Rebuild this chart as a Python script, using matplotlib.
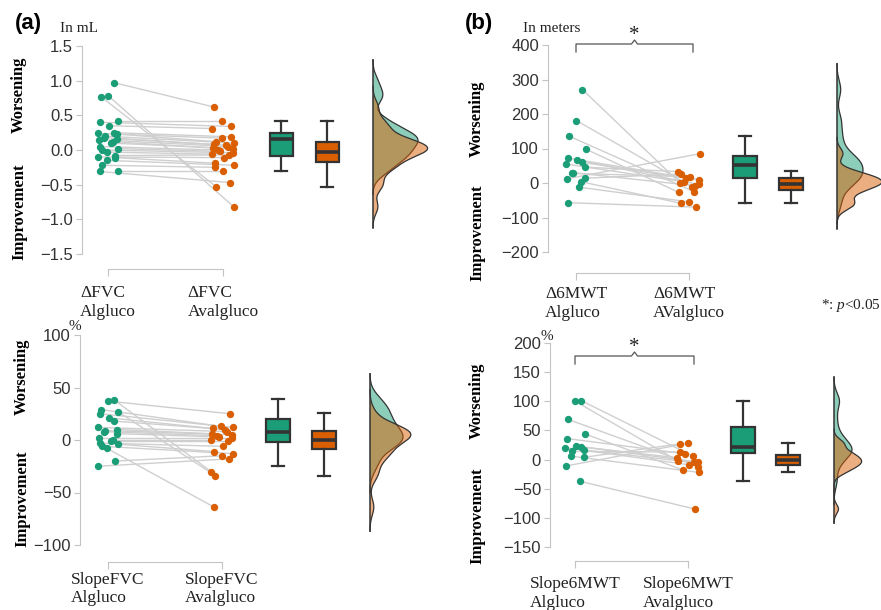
import numpy as np
import matplotlib
matplotlib.use("Agg")
import matplotlib.pyplot as plt
from matplotlib.lines import Line2D

plt.rcParams['mathtext.fontset'] = 'custom'
plt.rcParams['mathtext.rm'] = 'Liberation Serif'
plt.rcParams['mathtext.it'] = 'Liberation Serif:italic'

# ---------------- data ----------------
groups = ["Algluco", "Avalgluco"]

fvc_alg = [0.97, 0.78, 0.77, 0.42, 0.40, 0.35, 0.25, 0.24, 0.23, 0.20, 0.18, 0.16, 0.15,
           0.12, 0.10, 0.05, 0.02, 0.00, -0.03, -0.08, -0.10, -0.11, -0.15, -0.22, -0.30, -0.31]
fvc_aval = [0.62, -0.82, -0.53, 0.42, 0.34, 0.31, 0.19, 0.17, 0.12, 0.10, 0.08, 0.07, 0.05,
            0.03, 0.02, 0.00, -0.02, -0.04, -0.06, -0.07, -0.11, -0.19, -0.22, -0.25, -0.30, -0.47]
fvc_box_alg = [-0.31, -0.09, 0.16, 0.24, 0.42]     # whislo, q1, med, q3, whishi
fvc_box_aval = [-0.53, -0.17, -0.03, 0.12, 0.42]

mwt_alg = [271, 181, 136, 98, 72, 67, 60, 55, 46, 30, 28, 14, 12, 4, -12, -57]
mwt_aval = [1, -11, -25, -27, 9, 4, 14, -3, 33, -8, 18, 26, 85, -59, -55, -70]
mwt_box_alg = [-57, 14, 52, 79, 136]
mwt_box_aval = [-59, -20, -3, 14, 35]

sfvc_alg = [38, 37, 29, 27, 25, 21, 18, 12, 10, 9, 8, 6, 2, 0, -1, -3, -4, -6, -8, -20, -25]
sfvc_aval = [-30, 25, 13, -34, 12, 11, 10, 8, 6, 5, 4, 3, 2, 0, -1, -6, -11, -13, -64, -15, -18]
sfvc_box_alg = [-24.8, -1.6, 7.9, 19.7, 38.7]
sfvc_box_aval = [-34.3, -8.9, 0.0, 8.6, 25.5]

smwt_alg = [101, 100, 69, 44, 36, 23, 22, 20, 16, 14, 6, 4, -11, -37]
smwt_aval = [6, -2, -12, -18, 10, -4, 3, -5, -9, 13, -22, 27, 28, -85]
smwt_box_alg = [-37, 11, 22, 56, 101]
smwt_box_aval = [-21, -9, -1, 8, 28]

ticks_fvc = [-1.5, -1.0, -0.5, 0.0, 0.5, 1.0, 1.5]
ticklab_fvc = ["\u22121.5", "\u22121.0", "\u22120.5", "0.0", "0.5", "1.0", "1.5"]
ticks_mwt = [-200, -100, 0, 100, 200, 300, 400]
ticks_sfvc = [-100, -50, 0, 50, 100]
ticks_smwt = [-150, -100, -50, 0, 50, 100, 150, 200]

cat_fvc = ["\u0394FVC\nAlgluco", "\u0394FVC\nAvalgluco"]
cat_mwt = ["\u03946MWT\nAlgluco", "\u03946MWT\nAValgluco"]
cat_sfvc = ["SlopeFVC\nAlgluco", "SlopeFVC\nAvalgluco"]
cat_smwt = ["Slope6MWT\nAlgluco", "Slope6MWT\nAvalgluco"]

# ---------------- style ----------------
W, H = 881, 610
GREEN = "#1b9e77"
ORANGE = "#d95f02"
SPINE = "#c4c4c4"
TXT = "#333333"
SERIF = "Liberation Serif"
SANS = "Liberation Sans"

fig = plt.figure(figsize=(W / 100, H / 100), dpi=100)


def ftext(x, y, s, **kw):
    fig.text(x / W, 1 - y / H, s, **kw)


def nrd0(x):
    x = np.asarray(x, float)
    sd = x.std(ddof=1)
    q75, q25 = np.percentile(x, [75, 25])
    iqr = (q75 - q25) / 1.34
    lo = min(sd, iqr) if iqr > 0 else sd
    return 0.9 * lo * len(x) ** -0.2


def kde(x):
    x = np.asarray(x, float)
    bw = nrd0(x)
    g = np.linspace(x.min() - 3 * bw, x.max() + 3 * bw, 512)
    d = np.exp(-0.5 * ((g[:, None] - x[None, :]) / bw) ** 2).sum(1) / (len(x) * bw * np.sqrt(2 * np.pi))
    return g, d


def jitter(n, amp):
    i = np.arange(n)
    return amp * np.sin(i * 2.399 + 0.7)


def panel(sp, a, b, box_a, box_b, ticks, ticklabels, cats):
    xl, xr, yt, yb = sp["xl"], sp["xr"], sp["yt"], sp["yb"]
    vt, pt, vb, pb = sp["vt"], sp["pt"], sp["vb"], sp["pb"]
    k = (pb - pt) / (vt - vb)
    ax = fig.add_axes([xl / W, 1 - yb / H, (xr - xl) / W, (yb - yt) / H])
    ax.patch.set_alpha(0)
    ax.set_xlim(xl, xr)
    ax.set_ylim(vt - (yb - pt) / k, vt + (pt - yt) / k)
    c1, c2 = sp["cats"]
    a = np.asarray(a, float)
    b = np.asarray(b, float)
    xa = c1 + jitter(len(a), 10)
    xb = c2 + jitter(len(b), 11)[::-1]
    for i in range(len(a)):
        ax.plot([xa[i], xb[i]], [a[i], b[i]], color="#cfcfcf", lw=1.0, zorder=1)
    ax.scatter(xa, a, s=28, color=GREEN, lw=0, zorder=3)
    ax.scatter(xb, b, s=28, color=ORANGE, lw=0, zorder=3)

    stats = []
    for bx in (box_a, box_b):
        stats.append(dict(whislo=bx[0], q1=bx[1], med=bx[2], q3=bx[3], whishi=bx[4], fliers=[]))
    bp = ax.bxp(stats, positions=sp["boxes"], widths=sp["bw"], capwidths=12,
                patch_artist=True, showfliers=False,
                boxprops=dict(edgecolor="#333333", linewidth=1.6),
                medianprops=dict(color="#333333", linewidth=2.6),
                whiskerprops=dict(color="#333333", linewidth=1.6),
                capprops=dict(color="#333333", linewidth=1.6))
    for patch, c in zip(bp["boxes"], [GREEN, ORANGE]):
        patch.set_facecolor(c)

    ga, da = kde(a)
    gb, db = kde(b)
    scale = sp["dw"] / da.max()
    base = sp["base"]
    ax.fill_betweenx(ga, base, base + da * scale, facecolor=GREEN, alpha=0.5,
                     edgecolor="none", zorder=2)
    ax.plot(base + da * scale, ga, color="#333333", lw=0.9, zorder=2.1)
    ax.fill_betweenx(gb, base, base + db * scale, facecolor=ORANGE, alpha=0.5,
                     edgecolor="none", zorder=2.2)
    ax.plot(base + db * scale, gb, color="#333333", lw=0.9, zorder=2.3)
    lo = min(ga.min(), gb.min())
    hi = max(ga.max(), gb.max())
    ax.plot([base, base], [lo, hi], color="#333333", lw=1.1, zorder=2.4)

    for s in ("top", "right"):
        ax.spines[s].set_visible(False)
    ax.spines["left"].set_bounds(ticks[0], ticks[-1])
    ax.spines["left"].set_color(SPINE)
    ax.spines["bottom"].set_position(("outward", sp["off"]))
    ax.spines["bottom"].set_bounds(c1, c2)
    ax.spines["bottom"].set_color(SPINE)
    ax.set_yticks(ticks)
    ax.set_yticklabels(ticklabels, fontfamily=SANS, fontsize=12, color=TXT)
    ax.tick_params(axis="y", length=4, width=0.8, color=SPINE, pad=2.5)
    ax.set_xticks([c1, c2])
    ax.set_xticklabels(cats, fontfamily=SERIF, fontsize=12.5, color="#222222",
                       linespacing=sp["ls"], multialignment="left")
    ax.tick_params(axis="x", length=5, width=0.8, color=SPINE, pad=sp["pad"])
    return ax


A1 = dict(xl=82, xr=440, yt=38, yb=254, vt=1.5, pt=46, vb=-1.5, pb=254,
          cats=(108, 223), boxes=(281, 327), bw=23, base=373, dw=45, off=11, pad=6.5, ls=1.22)
B1 = dict(xl=548, xr=881, yt=30, yb=252, vt=400, pt=45, vb=-200, pb=252,
          cats=(576, 689), boxes=(745, 791), bw=24, base=837, dw=26, off=15, pad=4.5, ls=1.22)
A2 = dict(xl=80, xr=440, yt=328, yb=545, vt=100, pt=335, vb=-100, pb=545,
          cats=(108, 222), boxes=(278, 324), bw=24, base=370, dw=33, off=12, pad=2.5, ls=1.15)
B2 = dict(xl=550, xr=881, yt=335, yb=547, vt=200, pt=343, vb=-150, pb=547,
          cats=(575, 688), boxes=(743, 788), bw=24, base=834, dw=18, off=10, pad=6.0, ls=1.22)

panel(A1, fvc_alg, fvc_aval, fvc_box_alg, fvc_box_aval, ticks_fvc, ticklab_fvc, cat_fvc)
panel(B1, mwt_alg, mwt_aval, mwt_box_alg, mwt_box_aval, ticks_mwt, [str(t).replace("-", "\u2212") for t in ticks_mwt], cat_mwt)
panel(A2, sfvc_alg, sfvc_aval, sfvc_box_alg, sfvc_box_aval, ticks_sfvc, [str(t).replace("-", "\u2212") for t in ticks_sfvc], cat_sfvc)
panel(B2, smwt_alg, smwt_aval, smwt_box_alg, smwt_box_aval, ticks_smwt, [str(t).replace("-", "\u2212") for t in ticks_smwt], cat_smwt)

# ---------------- annotations ----------------
ftext(28, 23, "(a)", fontfamily=SANS, fontweight="bold", fontsize=16, ha="center", va="center", color="black")
ftext(479, 23, "(b)", fontfamily=SANS, fontweight="bold", fontsize=16, ha="center", va="center", color="black")
ftext(60, 28, "In mL", fontfamily=SERIF, fontsize=11, ha="left", va="center", color="#222222")
ftext(523, 28, "In meters", fontfamily=SERIF, fontsize=11, ha="left", va="center", color="#222222")
ftext(75, 326, "%", fontfamily=SERIF, fontsize=11, ha="center", va="center", color="#222222")
ftext(547, 336, "%", fontfamily=SERIF, fontsize=11, ha="center", va="center", color="#222222")

for x, yw, yi in [(19, 95, 212), (477, 119, 233), (22, 377, 499), (477, 401, 516)]:
    ftext(x, yw, "Worsening", fontfamily=SERIF, fontweight="bold", fontsize=12,
          rotation=90, ha="center", va="center", color="black")
    ftext(x, yi, "Improvement", fontfamily=SERIF, fontweight="bold", fontsize=12,
          rotation=90, ha="center", va="center", color="black")

ftext(881, 305, r"*: $\it{p}$<0.05", fontfamily=SERIF, fontsize=11, ha="right", va="center", color="#222222")


def sig(x1, x2, ytop, ybot, ystar):
    xm = (x1 + x2) / 2
    xs = np.array([x1, x1, xm - 3, xm, xm + 3, x2, x2])
    ys = np.array([ybot, ytop, ytop, ytop - 4, ytop, ytop, ybot])
    fig.add_artist(Line2D(xs / W, 1 - ys / H, transform=fig.transFigure, color="#555555", lw=0.9))
    ftext(xm, ystar, "*", fontfamily=SERIF, fontsize=15, ha="center", va="center", color="#222222")


sig(576, 693, 44, 52, 35)
sig(575, 694, 356, 364, 347)

fig.savefig("out.png", dpi=100)
